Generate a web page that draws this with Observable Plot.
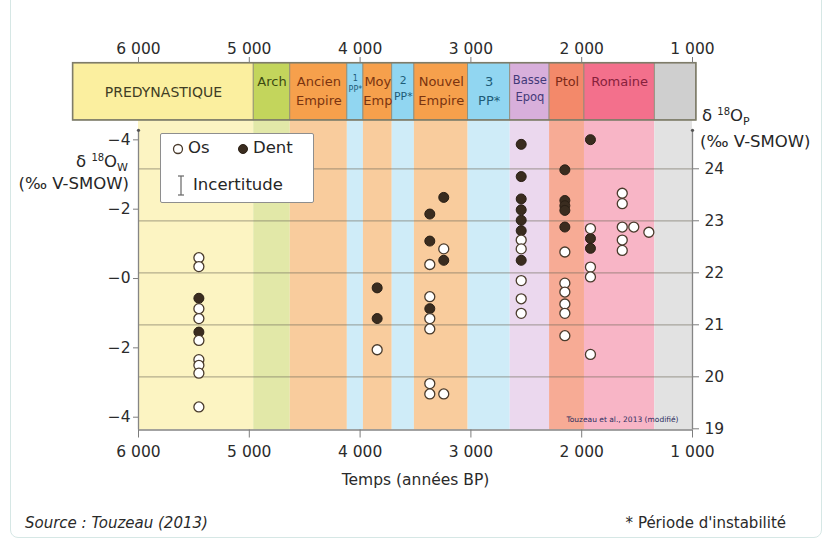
<!DOCTYPE html>
<html>
<head>
<meta charset="utf-8">
<script src="https://cdn.jsdelivr.net/npm/d3@7"></script>
<script src="https://cdn.jsdelivr.net/npm/@observablehq/plot@0.6"></script>
<style>
  body { margin: 0; background: #ffffff; }
  #fig { position: relative; width: 827px; height: 539px; overflow: hidden;
         font-family: "DejaVu Sans", "Liberation Sans", sans-serif; color: #2a2a2a; }
  #fig svg { position: absolute; left: 0; top: 0; }
  .frameline { position: absolute; left: 10px; width: 810px; top: -12px; height: 548px;
               border: 1.5px solid #d6e7e5; border-radius: 8px; }
  .ttl { position: absolute; font-size: 16.5px; line-height: 1; white-space: nowrap; color: #262626; }
  .ttl sup { font-size: 10px; vertical-align: 6px; }
  .ttl sub { font-size: 11px; vertical-align: -4px; }
  #legend { position: absolute; left: 160px; top: 133px; width: 152px; height: 68px;
            background: #fff; border: 1px solid #8e8e8e; border-radius: 2px; }
  #legend .it { position: absolute; font-size: 16.5px; line-height: 1; color: #262626; white-space: nowrap; }
  .cap { position: absolute; top: 516px; font-size: 15px; line-height: 1; color: #2a2a2a; white-space: nowrap; }
</style>
</head>
<body>
<div id="fig">
  <div class="frameline"></div>
</div>
<script>
// ---------- data ----------
const periodNames = ["PREDYNASTIQUE", "Arch", "Ancien\nEmpire", "1\nPP*", "Moy\nEmp", "2\nPP*",
                     "Nouvel\nEmpire", "3\nPP*", "Basse\nEpoq", "Ptol", "Romaine", ""];
const periodStart = [6590, 4960, 4630, 4115, 3970, 3710, 3510, 3025, 2645, 2290, 1975, 1340];
const periodEnd   = [4960, 4630, 4115, 3970, 3710, 3510, 3025, 2645, 2290, 1975, 1340, 965];
const periodKind  = ["pre", "arch", "emp", "pp", "emp", "pp", "emp", "pp", "basse", "ptol", "rom", "late"];

// Os (bone) samples: years BP and δ18Op (‰ V-SMOW)
const osYear  = [5455, 5455, 5455, 5455, 5455, 5455, 5455, 5455, 5455,
                 3846,
                 3371, 3371, 3371, 3371, 3371, 3371, 3245, 3245,
                 2546, 2546, 2546, 2546, 2546,
                 2152, 2152, 2152, 2152, 2152, 2152,
                 1921, 1921, 1921, 1921,
                 1634, 1634, 1634, 1634, 1634, 1530, 1394];
const osValue = [22.29, 22.12, 21.31, 21.12, 20.70, 20.33, 20.22, 20.07, 19.42,
                 20.52,
                 22.16, 21.54, 21.12, 20.92, 19.87, 19.67, 22.46, 19.67,
                 22.63, 22.46, 21.85, 21.50, 21.22,
                 22.40, 21.80, 21.63, 21.40, 21.22, 20.79,
                 22.85, 22.11, 21.92, 20.43,
                 23.53, 23.33, 22.88, 22.63, 22.43, 22.88, 22.78];
// Dent (tooth) samples
const dentYear  = [5455, 5455,
                   3846, 3846,
                   3245, 3245, 3371, 3371, 3371,
                   2546, 2546, 2546, 2546, 2546, 2546, 2546,
                   2152, 2152, 2152, 2152, 2152,
                   1921, 1921, 1921];
const dentValue = [21.51, 20.86,
                   21.71, 21.12,
                   23.45, 22.24, 23.13, 22.61, 21.31,
                   24.47, 23.85, 23.42, 23.21, 23.01, 22.81, 22.24,
                   23.98, 23.39, 23.29, 23.20, 22.88,
                   24.56, 22.66, 22.47];

const xTicks = [6000, 5000, 4000, 3000, 2000, 1000];
const xTickLabels = ["6 000", "5 000", "4 000", "3 000", "2 000", "1 000"];
const pTicks = [19, 20, 21, 22, 23, 24];
const wTicks = [4, 2, 0, -2, -4];
const wTickLabels = ["\u22124", "\u22122", "\u22120", "\u22122", "\u22124"];
const noteText = "Touzeau et al., 2013 (modifié)";

// ---------- styles ----------
const bandFill = {pre: "#fbef9f", arch: "#c3d55c", emp: "#f6a04c", pp: "#91d6f1", basse: "#d8afdb",
                  ptol: "#f3896a", rom: "#f3708c", late: "#cfcfcf"};
const bgFill   = {pre: "#fcf4c2", arch: "#e2e8a8", emp: "#f9cc9d", pp: "#cfecf8", basse: "#ebd8ee",
                  ptol: "#f7ab95", rom: "#f8b5c6", late: "#e2e2e2"};
const textFill = {pre: "#3f3d25", arch: "#3c4a12", emp: "#7a3410", pp: "#1d5c78", basse: "#433a78",
                  ptol: "#7c2a18", rom: "#87213c", late: "#444"};

// relation between the two vertical scales
const w2p = w => 21.89 + w / 1.5;

// layout constants
const W = 827, H = 500;
const mL = 138, mR = 135;
const pxPerYear = (W - mL - mR) / 5000;
const yMin = 18.977, yMax = 26.044;
const bandLow = 24.93, bandHigh = 26.03, axisTop = 24.74;

const periods = periodNames.map((name, i) => ({
  name, start: periodStart[i], end: periodEnd[i], kind: periodKind[i]
}));
const os = osYear.map((x, i) => ({x, y: osValue[i]}));
const dent = dentYear.map((x, i) => ({x, y: dentValue[i]}));
const xFmt = d => xTickLabels[xTicks.indexOf(d)];
const leftPos = wTicks.map(w2p);
const wFmt = d => wTickLabels[leftPos.indexOf(d)];
// shrink labels so they fit in narrow periods
const labelSize = d => {
  const widthPx = (d.start - d.end) * pxPerYear;
  const chars = Math.max(...d.name.split("\n").map(s => s.length));
  return Math.max(8, Math.min(13, widthPx / (chars * 0.68)));
};

const axisStyle = {fontSize: 15.5, fill: "#2b2b2b", stroke: "#7d7d7d", label: null};

const chart = Plot.plot({
  width: W, height: H,
  marginLeft: mL, marginRight: mR, marginTop: 62, marginBottom: H - 429.5,
  x: {domain: [6000, 1000]},
  y: {domain: [yMin, yMax]},
  color: {type: "identity"},
  style: {fontFamily: "'DejaVu Sans', 'Liberation Sans', sans-serif", background: "transparent", overflow: "visible"},
  marks: [
    // background period zones
    Plot.rect(periods, {
      x1: d => Math.min(d.start, 6000), x2: d => Math.max(d.end, 1000),
      y1: () => yMin, y2: () => bandLow, fill: d => bgFill[d.kind]
    }),
    // horizontal grid
    Plot.ruleY(pTicks.slice(1), {stroke: "#6d6857", strokeOpacity: 0.5, strokeWidth: 1.2}),
    // chronology band
    Plot.rect(periods, {
      x1: "start", x2: "end", y1: () => bandLow, y2: () => bandHigh,
      fill: d => bandFill[d.kind], stroke: "#8d8b78", strokeWidth: 0.8
    }),
    Plot.rect([periods[0]], {
      x1: "start", x2: () => periodEnd[periodEnd.length - 1], y1: () => bandLow, y2: () => bandHigh,
      fill: "none", stroke: "#7e7c69", strokeWidth: 1.6
    }),
    ...periods.filter(d => d.kind !== "pre" && d.name).map(d =>
      Plot.text([d], {
        x: d => (d.start + d.end) / 2, y: () => 25.85, text: "name",
        lineAnchor: "top", lineHeight: 1.45, fontSize: labelSize(d), fill: textFill[d.kind]
      })
    ),
    Plot.text(periods.filter(d => d.kind === "pre"), {
      x: d => (d.start + d.end) / 2, y: () => 25.47, text: "name",
      lineAnchor: "middle", fontSize: 14, fill: d => textFill[d.kind]
    }),
    // axes lines
    Plot.ruleY([yMin], {stroke: "#858585", strokeWidth: 1.3}),
    Plot.ruleX([6000, 1000], {y1: () => yMin, y2: () => axisTop, stroke: "#858585", strokeWidth: 1.3}),
    Plot.dot([6000, 1000], {x: d => d, y: () => axisTop, r: 1.6, fill: "#555"}),
    // samples
    Plot.dot(dent, {x: "x", y: "y", r: 5, fill: "#3a2c1f", stroke: "#2a1f15", strokeWidth: 1}),
    Plot.dot(os, {x: "x", y: "y", r: 5, fill: "#ffffff", stroke: "#4a3b2c", strokeWidth: 1.3}),
    // axes
    Plot.axisX({anchor: "top", ticks: xTicks, tickFormat: xFmt, tickSize: 6, tickPadding: 3, ...axisStyle}),
    Plot.axisX({anchor: "bottom", ticks: xTicks, tickFormat: xFmt, tickSize: 8, tickPadding: 8, ...axisStyle}),
    Plot.axisY({anchor: "right", ticks: pTicks, tickFormat: d => String(d), tickSize: 6, tickPadding: 6, ...axisStyle}),
    Plot.axisY({anchor: "left", ticks: leftPos, tickFormat: wFmt, tickSize: 5, tickPadding: 3, ...axisStyle}),
    // texts
    Plot.text(["Temps (années BP)"], {frameAnchor: "bottom", dy: 55, fontSize: 15.5, fill: "#2a2a2a"}),
    Plot.text([noteText], {frameAnchor: "bottom-right", dx: -14, dy: -8, fontSize: 7.5, fill: "#2d2d5e"})
  ]
});

const fig = document.getElementById("fig");
fig.appendChild(chart);

function addHTML(html) { fig.insertAdjacentHTML("beforeend", html); }

// axis titles
addHTML(`<div class="ttl" style="right:${827 - 128}px; top:153px; text-align:right">δ <sup>18</sup>O<sub>W</sub></div>`);
addHTML(`<div class="ttl" style="right:${827 - 129}px; top:176px; text-align:right">(‰ V-SMOW)</div>`);
addHTML(`<div class="ttl" style="left:702px; top:107px">δ <sup>18</sup>O<sub>P</sub></div>`);
addHTML(`<div class="ttl" style="left:700px; top:134px">(‰ V-SMOW)</div>`);

// legend
addHTML(`<div id="legend">
  <svg width="152" height="68" style="position:absolute;left:0;top:0">
    <circle cx="17" cy="15" r="4.5" fill="#fff" stroke="#4a3b2c" stroke-width="1.3"></circle>
    <circle cx="82" cy="15" r="4.5" fill="#3a2c1f" stroke="#2a1f15"></circle>
    <line x1="20" y1="42" x2="20" y2="61" stroke="#666" stroke-width="1.2"></line>
    <line x1="17" y1="42" x2="23" y2="42" stroke="#666" stroke-width="1.2"></line>
    <line x1="17" y1="61" x2="23" y2="61" stroke="#666" stroke-width="1.2"></line>
  </svg>
  <div class="it" style="left:27px; top:6px">Os</div>
  <div class="it" style="left:92px; top:6px">Dent</div>
  <div class="it" style="left:32px; top:43px">Incertitude</div>
</div>`);

// captions
addHTML(`<div class="cap" style="left:25px; font-style:italic">Source : Touzeau (2013)</div>`);
addHTML(`<div class="cap" style="right:${827 - 786}px">* Période d'instabilité</div>`);
</script>
</body>
</html>
